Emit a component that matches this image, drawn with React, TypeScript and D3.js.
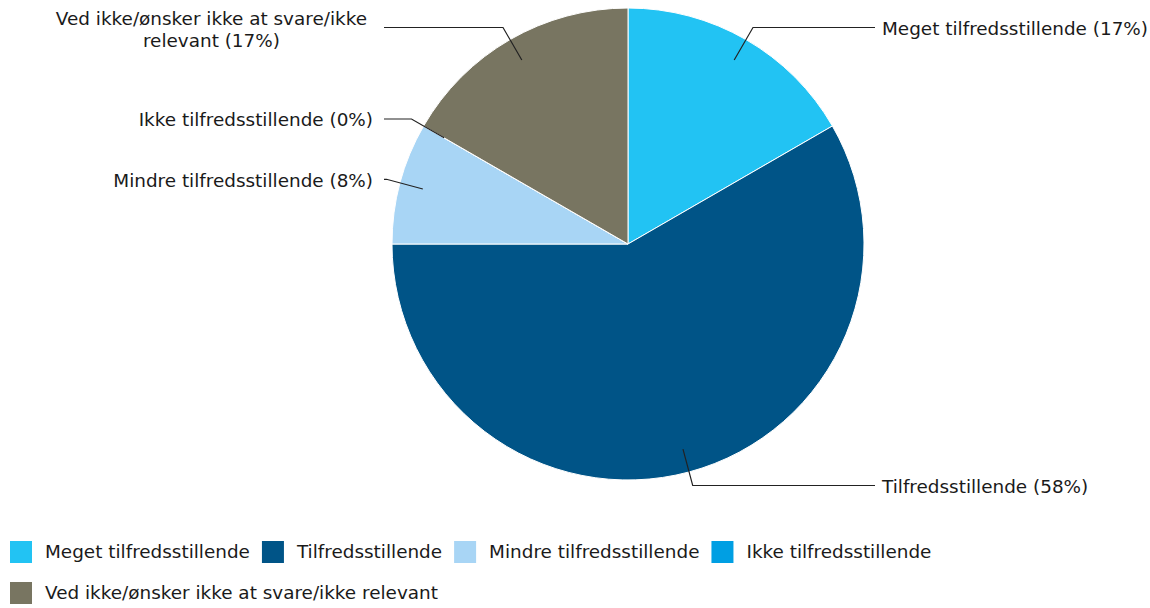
import React, { useEffect, useRef } from "react";
import * as d3 from "d3";

const categories = [
  "Meget tilfredsstillende",
  "Tilfredsstillende",
  "Mindre tilfredsstillende",
  "Ikke tilfredsstillende",
  "Ved ikke/ønsker ikke at svare/ikke relevant",
];
const counts = [2, 7, 1, 0, 2];
const percentLabels = ["17%", "58%", "8%", "0%", "17%"];
const colors = ["#22c3f3", "#005487", "#a8d5f5", "#009fe3", "#787561"];
const labelLines: string[][] = [
  ["Meget tilfredsstillende (17%)"],
  ["Tilfredsstillende (58%)"],
  ["Mindre tilfredsstillende (8%)"],
  ["Ikke tilfredsstillende (0%)"],
  ["Ved ikke/ønsker ikke at svare/ikke", "relevant (17%)"],
];

const W = 1150;
const H = 608;
const FONT = "Verdana, 'DejaVu Sans', sans-serif";

export default function App() {
  const ref = useRef<SVGSVGElement>(null);
  useEffect(() => {
    const svg = d3.select(ref.current);
    svg.selectAll("*").remove();
    const cx = 628, cy = 244, r = 236;
    const g = svg.append("g").attr("transform", `translate(${cx},${cy})`);
    const data = categories.map((c, i) => ({ c, v: counts[i], i }));
    const pie = d3.pie<any>().value((d) => d.v).sort(null);
    const arcs = pie(data);
    const arc = d3.arc<any>().innerRadius(0).outerRadius(r);
    g.selectAll("path.slice")
      .data(arcs)
      .enter()
      .append("path")
      .attr("class", "slice")
      .attr("d", arc)
      .attr("fill", (d: any) => colors[d.data.i])
      .attr("stroke", "#fff")
      .attr("stroke-width", 1);

    const fs = 18.4;
    arcs.forEach((a: any) => {
      const mid = (a.startAngle + a.endAngle) / 2;
      const p = (rad: number) => [rad * Math.sin(mid), -rad * Math.cos(mid)];
      const [x1, y1] = p(r * 0.9);
      const [x2, y2] = p(r + 14);
      const right = Math.sin(mid) > 0;
      const xEnd = right ? 875 - cx : 384 - cx;
      g.append("path")
        .attr("d", `M${x1},${y1}L${x2},${y2}L${xEnd},${y2}`)
        .attr("fill", "none")
        .attr("stroke", "#222")
        .attr("stroke-width", 1.2);
      const lines = labelLines[a.data.i];
      const tx = right ? 882 - cx : 373 - cx;
      const t = g
        .append("text")
        .attr("font-family", FONT)
        .attr("font-size", fs)
        .attr("fill", "#1a1a1a");
      if (lines.length === 1) {
        t.attr("x", tx)
          .attr("y", y2 + 1)
          .attr("dy", "0.35em")
          .attr("text-anchor", right ? "start" : "end")
          .text(lines[0]);
      } else {
        const tmp = t.append("tspan").text(lines[0]);
        const w = (tmp.node() as SVGTextContentElement).getComputedTextLength();
        tmp.remove();
        const txm = right ? tx : tx - 6;
        const center = right ? txm + w / 2 : txm - w / 2;
        t.attr("text-anchor", "middle");
        lines.forEach((ln, k) => {
          t.append("tspan")
            .attr("x", center)
            .attr("y", y2 + 2 + (k - (lines.length - 1) / 2) * 22)
            .attr("dy", "0.35em")
            .text(ln);
        });
      }
    });

    // legend
    const leg = svg.append("g");
    const rows = [[0, 1, 2, 3], [4]];
    const rowY = [552, 593];
    rows.forEach((row, ri) => {
      let x = 10;
      row.forEach((i) => {
        leg.append("rect")
          .attr("x", x)
          .attr("y", rowY[ri] - 11)
          .attr("width", 22)
          .attr("height", 22)
          .attr("fill", colors[i]);
        const t = leg.append("text")
          .attr("x", x + 35)
          .attr("y", rowY[ri])
          .attr("dy", "0.35em")
          .attr("font-family", FONT)
          .attr("font-size", fs)
          .attr("fill", "#1a1a1a")
          .text(categories[i]);
        const w = (t.node() as SVGTextContentElement).getComputedTextLength();
        x = x + 35 + w + 12;
      });
    });
  }, []);
  return (
    <svg ref={ref} width={W} height={H} style={{ position: "absolute", left: 0, top: 0, background: "#fff" }} />
  );
}
